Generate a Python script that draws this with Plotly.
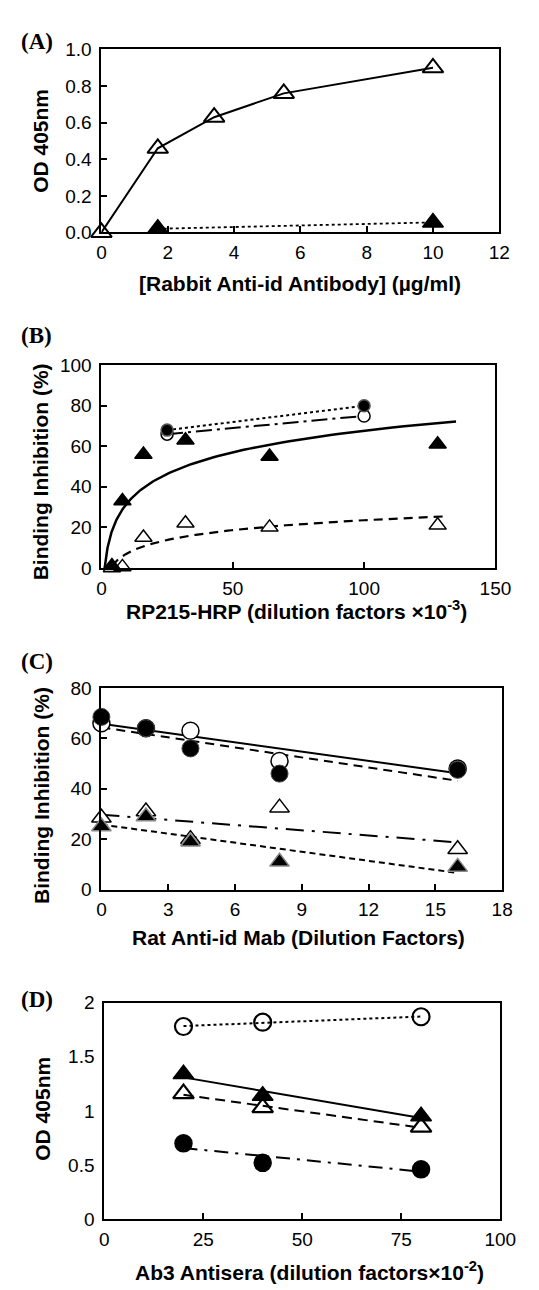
import numpy as np
import plotly.graph_objects as go

W, H = 539, 1290

# ---------------- Data ----------------
# Panel A
A_x_open = [0, 1.7, 3.4, 5.5, 10]
A_y_open = [0.0, 0.46, 0.63, 0.76, 0.90]
A_x_fill = [1.7, 10]
A_y_fill = [0.02, 0.055]

# Panel B
B_x = [4, 8, 16, 32, 64, 128]
B_fill_tri = [1, 33, 56, 63, 55, 61]
B_open_tri = [0, 0.5, 15, 22, 20, 21]
B_x_circ = [25, 100]
B_fill_circ = [68, 80]
B_open_circ = [66, 75]
B_fit_fill_range = [1.2, 135]
B_fit_open_range = [4, 130]

# Panel C
C_x = [0, 2, 4, 8, 16]
C_open_circ = [66, 64, 63, 51, 48]
C_fill_circ = [68.5, 64, 56, 46, 47.5]
C_open_tri = [28.5, 31, 20, 32.5, 16]
C_fill_tri = [25, 29, 19, 11, 9]

# Panel D
D_x = [20, 40, 80]
D_open_circ = [1.78, 1.82, 1.87]
D_fill_tri = [1.34, 1.14, 0.95]
D_open_tri = [1.16, 1.03, 0.85]
D_fill_circ = [0.70, 0.52, 0.46]

# ---------------- Layout helpers ----------------
def px_x(a, b):
    return [a / W, b / W]

def px_y(top, bottom):
    return [1 - bottom / H, 1 - top / H]

TICKFONT = dict(family="Liberation Sans, Arial, sans-serif", size=19, color="black")

panels = {
    "A": dict(xd=px_x(92, 506), yd=px_y(32, 218), xr=[0, 12], yr=[0, 1.0], xdt=2, ydt=0.2, yfmt=".1f", yticks="inside"),
    "B": dict(xd=px_x(92, 502), yd=px_y(353, 559), xr=[0, 150], yr=[0, 100], xdt=50, ydt=20, yfmt="", yticks="inside"),
    "C": dict(xd=px_x(92, 509), yd=px_y(681, 886), xr=[0, 18], yr=[0, 80], xdt=3, ydt=20, yfmt="", yticks="inside"),
    "D": dict(xd=px_x(95, 507), yd=px_y(1001, 1221), xr=[0, 100], yr=[0, 2], xdt=25, ydt=0.5, yfmt="", yticks=""),
}

fig = go.Figure()
layout = dict(width=W, height=H, margin=dict(l=0, r=0, t=0, b=0), autosize=False,
              paper_bgcolor="white", plot_bgcolor="white", showlegend=False)

for i, (k, p) in enumerate(panels.items()):
    n = "" if i == 0 else str(i + 1)
    layout["xaxis" + n] = dict(domain=p["xd"], range=p["xr"], anchor="y" + n, dtick=p["xdt"], tick0=0,
                               showgrid=False, zeroline=False, showline=True, linecolor="black", linewidth=2,
                               mirror=True, ticks="inside", ticklen=6, tickwidth=1.5, tickcolor="black",
                               tickfont=TICKFONT, ticklabelstandoff=2, fixedrange=True)
    layout["yaxis" + n] = dict(domain=p["yd"], range=p["yr"], anchor="x" + n, dtick=p["ydt"], tick0=0,
                               showgrid=False, zeroline=False, showline=True, linecolor="black", linewidth=2,
                               mirror=True, ticks=p["yticks"], ticklen=6, tickwidth=1.5, tickcolor="black",
                               tickfont=TICKFONT, tickformat=p["yfmt"], ticklabelstandoff=4, fixedrange=True)

def ax(i):
    n = "" if i == 0 else str(i + 1)
    return dict(xaxis="x" + n, yaxis="y" + n)

def line(i, x, y, dash, width=2):
    fig.add_trace(go.Scatter(x=x, y=y, mode="lines", line=dict(color="black", width=width, dash=dash),
                             cliponaxis=False, hoverinfo="skip", **ax(i)))

def marks(i, x, y, symbol, size, fill="black", lc="black", lw=1.5):
    fig.add_trace(go.Scatter(x=x, y=y, mode="markers", cliponaxis=False,
                             marker=dict(symbol=symbol, size=size, color=fill, line=dict(color=lc, width=lw)),
                             **ax(i)))

def linfit(x, y, xs):
    c = np.polyfit(np.asarray(x, float), np.asarray(y, float), 1)
    xs = np.asarray(xs, float)
    return xs, np.polyval(c, xs)

def logfit(x, y, lo, hi):
    c = np.polyfit(np.log(np.asarray(x, float)), np.asarray(y, float), 1)
    xs = np.geomspace(lo, hi, 120)
    return xs, np.polyval(c, np.log(xs))

# ---------------- Panel A ----------------
line(0, A_x_open, A_y_open, "solid", 2)
line(0, A_x_fill, A_y_fill, "dot", 1.8)
marks(0, A_x_open, A_y_open, "triangle-up", 18, fill="rgba(0,0,0,0)", lw=2)
marks(0, A_x_fill, A_y_fill, "triangle-up", 18)

# ---------------- Panel B ----------------
xs, ys = logfit(B_x, B_fill_tri, *B_fit_fill_range)
line(1, xs, ys, "solid", 2.5)
xs, ys = logfit(B_x, B_open_tri, *B_fit_open_range)
line(1, xs, ys, "9px,6px", 2.2)
line(1, B_x_circ, B_fill_circ, "dot", 2)
line(1, B_x_circ, B_open_circ, "16px,5px,3px,5px", 2)
marks(1, B_x, B_open_tri, "triangle-up", 15, fill="white", lw=1.5)
marks(1, B_x, B_fill_tri, "triangle-up", 15)
marks(1, B_x_circ, B_open_circ, "circle", 12, fill="white", lw=1.5)
marks(1, B_x_circ, B_fill_circ, "circle", 12, lc="#555")

# ---------------- Panel C ----------------
span = [0, 16]
xs, ys = linfit(C_x, C_open_circ, span)
line(2, xs, ys, "solid", 2)
xs, ys = linfit(C_x, C_fill_circ, span)
line(2, xs, ys, "9px,6px", 2)
xs, ys = linfit(C_x, C_open_tri, span)
line(2, xs, ys, "18px,8px,3px,8px", 2)
xs, ys = linfit(C_x, C_fill_tri, span)
line(2, xs, ys, "6px,4px", 2)
marks(2, C_x, C_open_circ, "circle", 17, fill="white", lw=1.5)
marks(2, C_x, C_fill_circ, "circle", 17, lc="#444", lw=1)
marks(2, C_x, C_open_tri, "triangle-up", 17, fill="white", lw=1.5)
marks(2, C_x, C_fill_tri, "triangle-up", 17, lc="#888", lw=1.5)

# ---------------- Panel D ----------------
span = [20, 80]
xs, ys = linfit(D_x, D_open_circ, span)
line(3, xs, ys, "dot", 2)
xs, ys = linfit(D_x, D_fill_tri, span)
line(3, xs, ys, "solid", 2)
xs, ys = linfit(D_x, D_open_tri, span)
line(3, xs, ys, "10px,6px", 2)
xs, ys = linfit(D_x, D_fill_circ, span)
line(3, xs, ys, "14px,7px,3px,7px", 2)
marks(3, D_x, D_open_circ, "circle-open", 17, lw=2.2)
marks(3, D_x, D_fill_tri, "triangle-up", 18)
marks(3, D_x, D_open_tri, "triangle-up-open", 18, lw=2.2)
marks(3, D_x, D_fill_circ, "circle", 17)

# ---------------- Text ----------------
ann = []
def text(x, y, s, font, angle=0, xanchor="center"):
    ann.append(dict(x=x / W, y=1 - y / H, xref="paper", yref="paper", text=s, showarrow=False,
                    font=font, textangle=angle, xanchor=xanchor, yanchor="middle"))

bold = dict(family="Liberation Sans, Arial, sans-serif", size=21, color="black", weight="bold")
letter = dict(family="Liberation Serif, Times New Roman, serif", size=23, color="black", weight="bold")

text(6, 24, "(A)", letter, xanchor="left")
text(6, 323, "(B)", letter, xanchor="left")
text(6, 654, "(C)", letter, xanchor="left")
text(6, 998, "(D)", letter, xanchor="left")

text(299, 270, "[Rabbit Anti-id Antibody] (µg/ml)", bold)
text(29, 125, "OD 405nm", bold, angle=-90)
text(295, 602, "RP215-HRP (dilution factors ×10<sup>-3</sup>)", bold)
text(29, 461, "Binding Inhibition (%)", bold, angle=-90)
text(297, 935, "Rat Anti-id Mab (Dilution Factors)", bold)
text(29, 790, "Binding Inhibition (%)", bold, angle=-90)
text(309, 1274, "Ab3 Antisera (dilution factors×10<sup>-2</sup>)", bold)
text(31, 1109, "OD 405nm", bold, angle=-90)

layout["annotations"] = ann
fig.update_layout(**layout)
fig.write_html("out.html")
